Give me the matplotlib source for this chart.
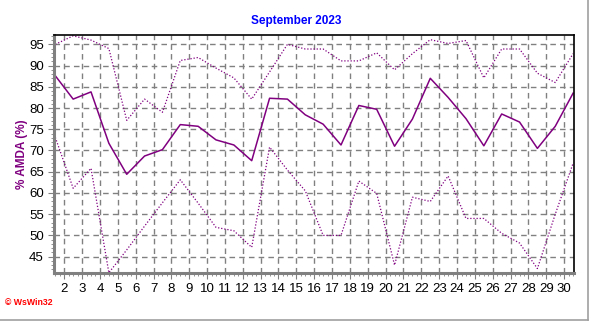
import matplotlib
matplotlib.use('Agg')
import matplotlib.pyplot as plt
from matplotlib.ticker import MultipleLocator
import numpy as np

days = list(range(1, 31))
amda_max = [95.0, 97.0, 96.0, 94.0, 77.1, 82.1, 79.0, 91.2, 91.9, 89.4,
            87.1, 82.1, 88.5, 95.0, 93.9, 93.9, 91.1, 91.1, 93.0, 89.0,
            92.8, 96.1, 95.2, 95.9, 87.1, 93.9, 93.9, 88.2, 86.0, 92.8]
amda_avg = [87.6, 82.1, 83.8, 71.7, 64.4, 68.7, 70.2, 76.1, 75.7, 72.5,
            71.3, 67.6, 82.3, 82.1, 78.4, 76.2, 71.3, 80.6, 79.7, 71.0,
            77.4, 87.0, 82.5, 77.5, 71.1, 78.6, 76.7, 70.5, 75.7, 83.5]
amda_min = [73.1, 61.1, 65.8, 41.2, 46.6, 52.2, 57.7, 63.1, 57.6, 51.9,
            51.1, 47.2, 70.8, 65.4, 60.5, 50.0, 50.0, 62.8, 59.9, 43.0,
            59.0, 58.0, 64.0, 54.0, 54.0, 50.5, 48.2, 42.2, 55.0, 67.0]
xticks = list(range(2, 31))
yticks = list(range(45, 100, 5))

plt.rcParams['font.family'] = ['Liberation Sans', 'DejaVu Sans']
purple = '#800080'
x = np.array(days) + 0.5  # daily values sit at mid-day

fig = plt.figure(figsize=(5.92, 3.21), dpi=100)
ax = fig.add_axes([0.0904, 0.1495, 0.8792, 0.7415])

ax.plot(x, amda_max, color=purple, lw=0.9, ls=(0, (1, 1.5)))
ax.plot(x, amda_avg, color=purple, lw=1.1)
ax.plot(x, amda_min, color=purple, lw=0.9, ls=(0, (1, 1.5)))

ax.set_xlim(1.4, 30.55)
ax.set_ylim(41.15, 97.2)
ax.set_xticks(xticks)
ax.set_yticks(yticks)
ax.xaxis.set_minor_locator(MultipleLocator(0.25))
ax.yaxis.set_minor_locator(MultipleLocator(1))
ax.tick_params(axis='both', which='major', labelsize=9.5, length=4, color='#808080', pad=3)
ax.tick_params(axis='both', which='minor', length=2.5, color='#808080')
ax.grid(True, which='major', color='#808080', ls=(0, (4, 3)), lw=1)

for s in ['left', 'bottom']:
    ax.spines[s].set_color('#808080')
    ax.spines[s].set_linewidth(2.2)
for s in ['top', 'right']:
    ax.spines[s].set_color('black')
    ax.spines[s].set_linewidth(1.2)

fig.text(0.5, 0.935, 'September 2023', color='#0000ff', fontsize=8.5,
         fontweight='bold', ha='center', va='center')
fig.text(0.037, 0.52, '% AMDA (%)', color=purple, fontsize=8.5, fontweight='bold',
         rotation=90, ha='center', va='center')
fig.text(0.009, 0.057, '\u00a9 WsWin32', color='red', fontsize=6.3,
         fontweight='bold', ha='left', va='center')

# thin gray frame on right and bottom of the picture
fig.add_artist(plt.Line2D([0, 0.9935], [0.004, 0.004], transform=fig.transFigure, color='#a0a0a0', lw=1.2))
fig.add_artist(plt.Line2D([0.9935, 0.9935], [0.004, 1], transform=fig.transFigure, color='#a0a0a0', lw=1.2))

fig.savefig('out.png', dpi=100)
